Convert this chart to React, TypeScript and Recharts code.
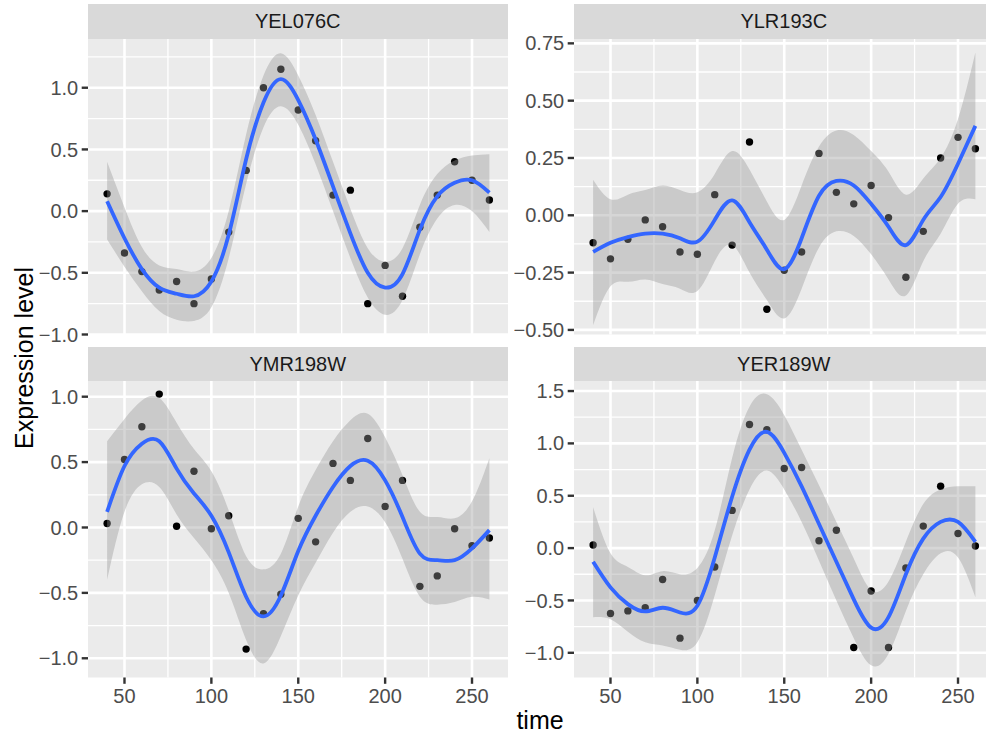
import { Area, CartesianGrid, ComposedChart, Line, Scatter, XAxis, YAxis } from "recharts";

// sampling times shared by all four genes
const times = [40, 50, 60, 70, 80, 90, 100, 110, 120, 130, 140, 150, 160, 170, 180, 190, 200, 210, 220, 230, 240, 250, 260];
const xTicks = [50, 100, 150, 200, 250];
const xMinor = [75, 125, 175, 225];

// YEL076C
const yel076cObs = [0.14, -0.34, -0.49, -0.64, -0.57, -0.75, -0.55, -0.17, 0.33, 1.0, 1.15, 0.82, 0.57, 0.13, 0.17, -0.75, -0.44, -0.69, -0.13, 0.13, 0.4, 0.25, 0.09];
const yel076cFit = [0.08, -0.22, -0.47, -0.62, -0.67, -0.69, -0.57, -0.19, 0.42, 0.88, 1.07, 0.9, 0.58, 0.2, -0.18, -0.5, -0.62, -0.51, -0.15, 0.12, 0.23, 0.25, 0.15];
const yel076cLo = [-0.23, -0.45, -0.65, -0.81, -0.88, -0.89, -0.78, -0.38, 0.22, 0.68, 0.85, 0.7, 0.38, 0.0, -0.38, -0.7, -0.84, -0.72, -0.35, -0.06, 0.05, 0.0, -0.17];
const yel076cHi = [0.4, 0.03, -0.29, -0.44, -0.47, -0.49, -0.38, 0.0, 0.62, 1.1, 1.28, 1.1, 0.78, 0.4, 0.02, -0.3, -0.41, -0.3, 0.05, 0.3, 0.41, 0.45, 0.46];

// YLR193C
const ylr193cObs = [-0.12, -0.19, -0.105, -0.02, -0.05, -0.16, -0.17, 0.09, -0.13, 0.32, -0.41, -0.24, -0.16, 0.27, 0.1, 0.05, 0.13, -0.01, -0.27, -0.07, 0.25, 0.34, 0.29];
const ylr193cFit = [-0.16, -0.12, -0.095, -0.08, -0.08, -0.1, -0.115, -0.02, 0.065, -0.03, -0.15, -0.235, -0.1, 0.085, 0.15, 0.13, 0.05, -0.05, -0.13, -0.02, 0.08, 0.225, 0.39];
const ylr193cLo = [-0.48, -0.31, -0.29, -0.28, -0.3, -0.32, -0.33, -0.2, -0.13, -0.25, -0.37, -0.45, -0.32, -0.14, -0.07, -0.09, -0.17, -0.28, -0.35, -0.2, -0.08, 0.05, 0.07];
const ylr193cHi = [0.155, 0.07, 0.09, 0.11, 0.13, 0.11, 0.1, 0.18, 0.28, 0.2, 0.06, -0.02, 0.13, 0.3, 0.37, 0.35, 0.28, 0.19, 0.09, 0.16, 0.25, 0.42, 0.71];

// YMR198W
const ymr198wObs = [0.03, 0.52, 0.77, 1.02, 0.01, 0.43, -0.01, 0.09, -0.93, -0.66, -0.51, 0.07, -0.11, 0.49, 0.36, 0.68, 0.16, 0.36, -0.45, -0.37, -0.01, -0.14, -0.08];
const ymr198wFit = [0.12, 0.47, 0.64, 0.66, 0.45, 0.26, 0.09, -0.19, -0.53, -0.68, -0.52, -0.18, 0.09, 0.31, 0.47, 0.51, 0.36, 0.08, -0.2, -0.25, -0.25, -0.16, -0.02];
const ymr198wLo = [-0.4, 0.12, 0.33, 0.31, 0.1, -0.08, -0.25, -0.5, -0.86, -1.04, -0.83, -0.52, -0.27, -0.04, 0.12, 0.16, 0.04, -0.24, -0.53, -0.59, -0.57, -0.53, -0.55];
const ymr198wHi = [0.66, 0.83, 0.97, 0.99, 0.8, 0.6, 0.43, 0.13, -0.22, -0.32, -0.2, 0.16, 0.44, 0.66, 0.82, 0.87, 0.69, 0.4, 0.12, 0.08, 0.07, 0.2, 0.53];

// YER189W
const yer189wObs = [0.03, -0.625, -0.6, -0.57, -0.3, -0.86, -0.5, -0.18, 0.36, 1.18, 1.13, 0.76, 0.77, 0.07, 0.17, -0.95, -0.41, -0.95, -0.19, 0.21, 0.59, 0.14, 0.02];
const yer189wFit = [-0.13, -0.375, -0.535, -0.605, -0.57, -0.615, -0.55, -0.09, 0.49, 0.94, 1.11, 0.91, 0.59, 0.23, -0.13, -0.49, -0.76, -0.66, -0.25, 0.09, 0.25, 0.25, 0.06];
const yer189wLo = [-0.66, -0.68, -0.8, -0.9, -0.93, -0.97, -0.9, -0.45, 0.12, 0.56, 0.74, 0.56, 0.25, -0.12, -0.5, -0.86, -1.12, -1.01, -0.6, -0.25, -0.05, -0.09, -0.47];
const yer189wHi = [0.39, -0.05, -0.18, -0.26, -0.22, -0.25, -0.19, 0.17, 0.86, 1.35, 1.47, 1.27, 0.94, 0.6, 0.25, -0.1, -0.4, -0.32, 0.06, 0.42, 0.56, 0.59, 0.59];

const FONT = '"Liberation Sans", Arial, Helvetica, sans-serif';
const AXIS_W = 60;
const PANEL_W = 420.5;
const STRIP_H = 34.5;
const PAD = 15; // room above/below the panel so edge tick labels are not clipped

const fmt = (v: number, digits: number) => v.toFixed(digits).replace("-", "\u2212");

interface PanelProps {
  gene: string;
  obs: number[];
  fit: number[];
  lo: number[];
  hi: number[];
  domain: [number, number];
  yTicks: number[];
  yMinor: number[];
  digits: number;
  left: number;
  top: number;
  height: number;
  showX: boolean;
}

function Panel({ gene, obs, fit, lo, hi, domain, yTicks, yMinor, digits, left, top, height, showX }: PanelProps) {
  const fitRows = times.map((t, i) => ({ time: t, fit: fit[i], band: [lo[i], hi[i]] }));
  const pointRows = times.map((t, i) => ({ time: t, value: obs[i] }));
  const axisTick = { fill: "#4D4D4D", fontSize: 20, fontFamily: FONT };
  const tickLine = { stroke: "#333333", strokeWidth: 2.4 };
  const bottomPad = showX ? 0 : PAD;

  return (
    <>
      <div
        style={{
          position: "absolute",
          left,
          top: top - STRIP_H,
          width: PANEL_W,
          height: STRIP_H,
          background: "#D9D9D9",
          color: "#1A1A1A",
          fontSize: 20,
          lineHeight: `${STRIP_H}px`,
          textAlign: "center",
        }}
      >
        {gene}
      </div>
      <div style={{ position: "absolute", left: left - AXIS_W, top: top - PAD }}>
        <ComposedChart
          width={AXIS_W + PANEL_W}
          height={PAD + height + (showX ? 40 : bottomPad)}
          data={fitRows}
          margin={{ top: PAD, right: 0, bottom: bottomPad, left: 0 }}
        >
          <CartesianGrid fill="#EBEBEB" stroke="#FFFFFF" strokeWidth={1.3} horizontalValues={yMinor} verticalValues={xMinor} />
          <CartesianGrid stroke="#FFFFFF" strokeWidth={2.6} horizontalValues={yTicks} verticalValues={xTicks} />
          <XAxis
            dataKey="time"
            type="number"
            domain={[29, 271]}
            ticks={xTicks}
            interval={0}
            allowDataOverflow
            hide={!showX}
            height={40}
            tick={axisTick}
            tickSize={6.3}
            tickMargin={5}
            tickLine={tickLine}
            axisLine={false}
          />
          <YAxis
            type="number"
            domain={domain}
            ticks={yTicks}
            interval={0}
            allowDataOverflow
            width={AXIS_W}
            tick={axisTick}
            tickFormatter={(v: number) => fmt(v, digits)}
            tickSize={6.3}
            tickMargin={3.5}
            tickLine={tickLine}
            axisLine={false}
          />
          <Scatter
            data={pointRows}
            dataKey="value"
            zIndex={50}
            isAnimationActive={false}
            shape={(p: any) => <circle cx={p.cx} cy={p.cy} r={3.7} fill="#000000" />}
          />
          <Area
            dataKey="band"
            type="natural"
            stroke="none"
            fill="#999999"
            fillOpacity={0.4}
            activeDot={false}
            isAnimationActive={false}
          />
          <Line
            dataKey="fit"
            type="natural"
            stroke="#3366FF"
            strokeWidth={3.8}
            dot={false}
            activeDot={false}
            isAnimationActive={false}
          />
        </ComposedChart>
      </div>
    </>
  );
}

export default function App() {
  return (
    <div
      style={{
        position: "absolute",
        left: 0,
        top: 0,
        width: 986,
        height: 738,
        overflow: "hidden",
        background: "#FFFFFF",
        fontFamily: FONT,
      }}
    >
      <Panel
        gene="YEL076C"
        obs={yel076cObs}
        fit={yel076cFit}
        lo={yel076cLo}
        hi={yel076cHi}
        domain={[-1.0, 1.395]}
        yTicks={[-1, -0.5, 0, 0.5, 1]}
        yMinor={[-0.75, -0.25, 0.25, 0.75, 1.25]}
        digits={1}
        left={87.5}
        top={38.5}
        height={295.5}
        showX={false}
      />
      <Panel
        gene="YLR193C"
        obs={ylr193cObs}
        fit={ylr193cFit}
        lo={ylr193cLo}
        hi={ylr193cHi}
        domain={[-0.52, 0.769]}
        yTicks={[-0.5, -0.25, 0, 0.25, 0.5, 0.75]}
        yMinor={[-0.375, -0.125, 0.125, 0.375, 0.625]}
        digits={2}
        left={573.5}
        top={38.5}
        height={295.5}
        showX={false}
      />
      <Panel
        gene="YMR198W"
        obs={ymr198wObs}
        fit={ymr198wFit}
        lo={ymr198wLo}
        hi={ymr198wHi}
        domain={[-1.147, 1.12]}
        yTicks={[-1, -0.5, 0, 0.5, 1]}
        yMinor={[-0.75, -0.25, 0.25, 0.75]}
        digits={1}
        left={87.5}
        top={381}
        height={296.5}
        showX
      />
      <Panel
        gene="YER189W"
        obs={yer189wObs}
        fit={yer189wFit}
        lo={yer189wLo}
        hi={yer189wHi}
        domain={[-1.236, 1.596]}
        yTicks={[-1, -0.5, 0, 0.5, 1, 1.5]}
        yMinor={[-0.75, -0.25, 0.25, 0.75, 1.25]}
        digits={1}
        left={573.5}
        top={381}
        height={296.5}
        showX
      />
      <div
        style={{
          position: "absolute",
          left: 24,
          top: 358,
          transform: "translate(-50%, -50%) rotate(-90deg)",
          whiteSpace: "nowrap",
          fontSize: 25,
          color: "#000000",
        }}
      >
        Expression level
      </div>
      <div
        style={{
          position: "absolute",
          left: 540,
          top: 705,
          transform: "translateX(-50%)",
          fontSize: 25,
          lineHeight: "30px",
          color: "#000000",
        }}
      >
        time
      </div>
    </div>
  );
}
